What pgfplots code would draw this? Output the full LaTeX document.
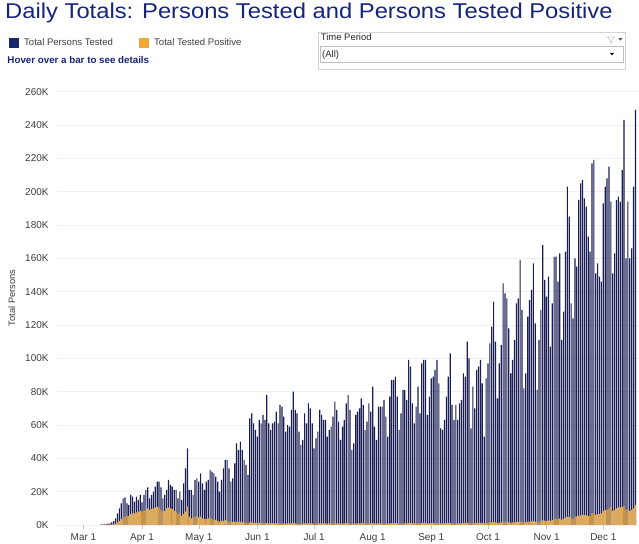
\documentclass[border=0pt]{standalone}
\usepackage{pgfplots}
\usepackage{pgfplotstable}
\usepackage{graphicx}
\usepackage{fontspec}
\setmainfont{Liberation Sans}
\pgfplotsset{compat=1.18}
\definecolor{titlenavy}{RGB}{22,36,122}
\definecolor{navybar}{RGB}{26,30,84}
\definecolor{legnavy}{RGB}{24,38,110}
\definecolor{posorange}{RGB}{240,168,48}
\definecolor{ticktext}{RGB}{60,60,60}

\pgfplotstableread{
d t p
9 0.2 0.05
10 0.3 0.05
11 0.4 0.1
12 0.6 0.1
13 0.8 0.15
14 1.0 0.2
15 1.5 0.3
16 2.5 0.4
17 4 0.8
18 7 1.5
19 10 2.5
20 13 3.5
21 16 4.5
22 16.5 5
23 13 5.5
24 12 5.5
25 18 6.5
26 17 7
27 14 7
28 17 7.5
29 15 8
30 18 8.5
31 13.5 8
32 18 8.5
33 21 9
34 22.5 10
35 16 9
36 18 9.5
37 20 10
38 23 10.5
39 26 11
40 26 10.5
41 22.5 9
42 16 8
43 18 8.5
44 21 10
45 27 10.5
46 24 10
47 23 9.5
48 21 8.5
49 21 8
50 16 6.5
51 20 7.5
52 15 5.5
53 25 6.5
54 34 8
55 46 11
56 21 5
57 21 4
58 18 4.5
59 27 5
60 28 5.5
61 26 4.5
62 31 5
63 25 4
64 21 3.5
65 26 3.5
66 27 4
67 33 4
68 32 3.5
69 31 3
70 29 3
71 26 2.5
72 20 2
73 27 2.5
74 34 2.5
75 39 3
76 39 2.5
77 34 2
78 26 1.8
79 28 1.8
80 37 2
81 49 2
82 45 1.8
83 50 1.8
84 45 1.6
85 39 1.5
86 36 1.2
87 30 1.0
88 64 1.5
89 67 1.5
90 61 1.3
91 57 1.2
92 53 1.1
93 63 1.2
94 61 1.2
95 66 1.3
96 63 1.1
97 78 1.3
98 61 1.0
99 57 1.0
100 61 1.1
101 62 1.0
102 68 1.1
103 61 1.0
104 72 1.1
105 71 1.0
106 65 0.9
107 56 0.8
108 60 0.9
109 59 0.9
110 69 1.0
111 80 1.1
112 69 1.0
113 67 0.9
114 56 0.8
115 48 0.7
116 51 0.8
117 67 0.9
118 61 0.9
119 73 1.0
120 70 1.0
121 61 0.9
122 46 0.7
123 52 0.8
124 56 0.9
125 69 1.0
126 66 1.0
127 63 1.0
128 63 0.9
129 53 0.8
130 57 0.9
131 59 0.9
132 65 1.0
133 74 1.1
134 69 1.0
135 62 0.9
136 51 0.8
137 59 0.9
138 63 1.0
139 73 1.1
140 78 1.1
141 69 1.0
142 45 0.7
143 49 0.8
144 66 1.0
145 68 1.0
146 70 1.0
147 76 1.1
148 72 1.0
149 57 0.9
150 62 0.9
151 73 1.0
152 68 1.0
153 83 1.1
154 59 0.9
155 51 0.8
156 71 1.0
157 71 1.0
158 71 1.0
159 75 1.0
160 65 0.9
161 53 0.8
162 77 1.0
163 87 1.1
164 87 1.1
165 89 1.1
166 77 1.0
167 57 0.8
168 67 0.9
169 81 1.0
170 81 1.0
171 75 1.0
172 99 1.2
173 95 1.2
174 73 1.0
175 61 0.9
176 71 1.0
177 83 1.1
178 67 0.9
179 97 1.2
180 99 1.2
181 99 1.2
182 66 0.9
183 77 1.0
184 88 1.1
185 89 1.1
186 93 1.2
187 99 1.2
188 85 1.1
189 58 0.9
190 57 0.9
191 63 1.0
192 77 1.1
193 89 1.2
194 103 1.3
195 72 1.0
196 63 0.9
197 72 1.0
198 63 0.9
199 73 1.0
200 75 1.0
201 91 1.2
202 89 1.2
203 110 1.4
204 100 1.3
205 58 0.9
206 83 1.1
207 70 1.0
208 93 1.2
209 95 1.2
210 99 1.3
211 85 1.2
212 53 0.9
213 88 1.3
214 97 1.4
215 109 1.5
216 119 1.6
217 134 1.7
218 110 1.5
219 76 1.2
220 97 1.4
221 108 1.5
222 145 1.8
223 139 1.7
224 136 1.7
225 118 1.5
226 91 1.3
227 99 1.5
228 111 1.6
229 133 1.9
230 136 1.9
231 159 2.1
232 129 1.8
233 82 1.4
234 91 1.5
235 125 1.9
236 135 2.0
237 141 2.1
238 157 2.3
239 121 2.0
240 81 1.6
241 111 2.0
242 129 2.3
243 168 2.7
244 147 2.6
245 137 2.5
246 149 2.8
247 107 2.4
248 133 3.0
249 161 3.5
250 161 3.8
251 146 3.6
252 163 4.0
253 111 3.2
254 128 3.6
255 164 4.5
256 203 5.0
257 185 4.8
258 133 4.0
259 124 3.8
260 160 5.0
261 155 5.2
262 195 5.6
263 205 5.8
264 207 6.0
265 196 6.0
266 191 5.8
267 173 5.4
268 164 5.5
269 217 7.0
270 219 7.2
271 151 6.0
272 157 6.5
273 149 6.5
274 146 7.0
275 193 8.5
276 203 9.0
277 208 9.2
278 215 10.0
279 194 11.0
280 151 8.5
281 163 9.0
282 195 10.0
283 197 10.5
284 194 10.5
285 213 11.0
286 243 11.5
287 160 9.0
288 194 9.5
289 160 8.5
290 166 9.0
291 203 10.0
292 249 12.0
}\data

\begin{document}
\begin{tikzpicture}[x=1bp,y=1bp]
\path[use as bounding box] (0,0) rectangle (639,544);
\begin{axis}[
  at={(57bp,19bp)}, anchor=south west,
  scale only axis, width=582bp, height=443bp,
  xmin=-14, xmax=293.9, ymin=0, ymax=265.8,
  axis line style={draw=none},
  ymajorgrids, grid style={gray!13, line width=0.7bp},
  ytick={0,20,...,260},
  yticklabel={\pgfmathprintnumber{\tick}K},
  ytick style={draw=none},
  xtick={0,31,61,92,122,153,184,214,245,275},
  xticklabels={Mar 1,Apr 1,May 1,Jun 1,Jul 1,Aug 1,Sep 1,Oct 1,Nov 1,Dec 1},
  xtick pos=bottom, tick align=outside,
  xtick style={gray!45, line width=0.5bp},
  major tick length=4bp,
  /pgf/number format/assume math mode=true,
  tick label style={font=\fontsize{10}{12}\selectfont, text=ticktext},
  yticklabel style={xshift=-1bp},
  xticklabel style={yshift=-0.5bp, text height=7.3bp, text depth=0pt},
]
\addplot[ybar, bar shift=0pt, bar width=0.62, fill=navybar, draw=none] table[x=d,y=t] {\data};
\addplot[ybar, bar shift=0pt, bar width=0.62, fill=posorange, draw=none] table[x=d,y=p] {\data};
\end{axis}
% title
\node[anchor=base west, inner sep=0, text=titlenavy, font=\fontsize{21.5}{25}\selectfont] at (5,525.5) {\scalebox{1.11}[1]{Daily Totals: Persons Tested and Persons Tested Positive}};
% legend
\fill[legnavy] (8.5,496.3) rectangle (18.5,506.3);
\node[anchor=base west, inner sep=0, text=ticktext, font=\fontsize{9.6}{11}\selectfont] at (24,498.3) {Total Persons Tested};
\fill[posorange] (138.5,496.3) rectangle (148.5,506.3);
\node[anchor=base west, inner sep=0, text=ticktext, font=\fontsize{9.6}{11}\selectfont] at (154,498.3) {Total Tested Positive};
\node[anchor=base west, inner sep=0, text=titlenavy, font=\fontsize{9.8}{11}\selectfont\bfseries] at (7.3,480.7) {Hover over a bar to see details};
% filter box
\draw[gray!35, line width=0.6bp] (318.3,474.7) rectangle (625,511.8);
\draw[gray!50, line width=0.6bp] (320.7,481.3) rectangle (623.3,497.3);
\node[anchor=base west, inner sep=0, text=black!85, font=\fontsize{9.5}{11}\selectfont] at (320.7,503.2) {Time Period};
\node[anchor=base west, inner sep=0, text=black!85, font=\fontsize{9.5}{11}\selectfont] at (322,486.7) {(All)};
\draw[gray!55, line width=0.5bp] (607.5,507) -- (614.5,507) -- (611.8,503.8) -- (611.8,501) -- (610.3,501.8) -- (610.3,503.8) -- cycle;
\fill[gray!70!black] (618.3,505.8) -- (622.5,505.8) -- (620.4,503.3) -- cycle;
\fill[black] (609.8,491.2) -- (614.2,491.2) -- (612,488.6) -- cycle;
% y label
\node[rotate=90, inner sep=0, text=ticktext, font=\fontsize{9.3}{11}\selectfont] at (11.7,246) {Total Persons};
\end{tikzpicture}
\end{document}
